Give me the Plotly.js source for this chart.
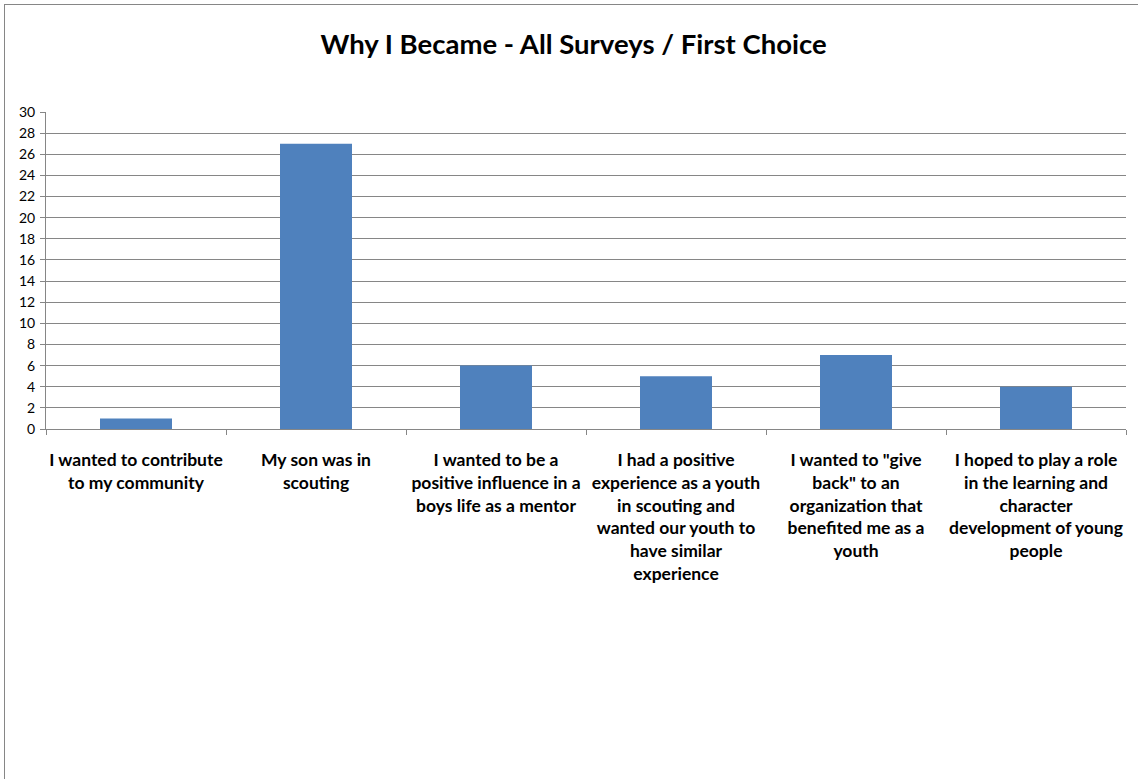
<!DOCTYPE html>
<html>
<head>
<meta charset="utf-8">
<script src="https://cdn.plot.ly/plotly-3.0.1.min.js"></script>
<style>
  html, body { margin: 0; padding: 0; background: #ffffff; }
  #wrap { position: relative; width: 1138px; height: 779px; overflow: hidden; }
  #frame { position: absolute; left: 4px; top: 4px; width: 1200px; height: 900px;
           border-top: 1px solid #868686; border-left: 1px solid #868686; pointer-events: none; z-index: 5; }
  #chart { position: absolute; left: 0; top: 0; width: 1138px; height: 779px; }
</style>
</head>
<body>
<div id="wrap">
  <div id="chart"></div>
  <div id="frame"></div>
</div>
<script>
const chartTitle = "Why I Became - All Surveys / First Choice";
const categories = [
  "I wanted to contribute<br>to my community",
  "My son was in<br>scouting",
  "I wanted to be a<br>positive influence in a<br>boys life as a mentor",
  "I had a positive<br>experience as a youth<br>in scouting and<br>wanted our youth to<br>have similar<br>experience",
  "I wanted to \"give<br>back\" to an<br>organization that<br>benefited me as a<br>youth",
  "I hoped to play a role<br>in the learning and<br>character<br>development of young<br>people"
];
const counts = [1, 27, 6, 5, 7, 4];
const yTickValues = [0, 2, 4, 6, 8, 10, 12, 14, 16, 18, 20, 22, 24, 26, 28, 30];

const trace = {
  type: "bar",
  x: categories,
  y: counts,
  width: 0.4,
  marker: { color: "#4F81BD", line: { width: 0 } },
  hoverinfo: "x+y"
};

const layout = {
  width: 1138,
  height: 779,
  paper_bgcolor: "rgba(0,0,0,0)",
  plot_bgcolor: "#ffffff",
  margin: { l: 46, r: 12, t: 112, b: 350 },
  showlegend: false,
  title: {
    text: "<b>" + chartTitle + "</b>",
    font: { family: "Lato, 'Open Sans', sans-serif", size: 27.5, color: "#000000" },
    x: 0.504, xanchor: "center", xref: "container",
    y: 0.943, yanchor: "middle", yref: "container"
  },
  xaxis: {
    type: "category",
    showgrid: false,
    showline: true,
    linecolor: "#868686",
    linewidth: 1,
    ticks: "outside",
    tickson: "boundaries",
    ticklen: 5,
    tickcolor: "#868686",
    ticklabelstandoff: 15,
    tickfont: { family: "Lato, 'Open Sans', sans-serif", size: 17.5, color: "#000000", weight: "bold" },
    tickangle: 0,
    automargin: false,
    fixedrange: true
  },
  yaxis: {
    range: [0, 30],
    tickvals: yTickValues,
    ticktext: yTickValues.map(String),
    showgrid: true,
    gridcolor: "#868686",
    gridwidth: 1,
    showline: true,
    linecolor: "#868686",
    linewidth: 1,
    ticks: "outside",
    ticklen: 5,
    tickcolor: "#868686",
    ticklabelstandoff: 2,
    tickfont: { family: "Lato, 'Open Sans', sans-serif", size: 14, color: "#000000" },
    zeroline: false,
    automargin: false,
    fixedrange: true
  },
  bargap: 0.6
};

Plotly.newPlot("chart", [trace], layout, { displayModeBar: false, staticPlot: true });
</script>
</body>
</html>
